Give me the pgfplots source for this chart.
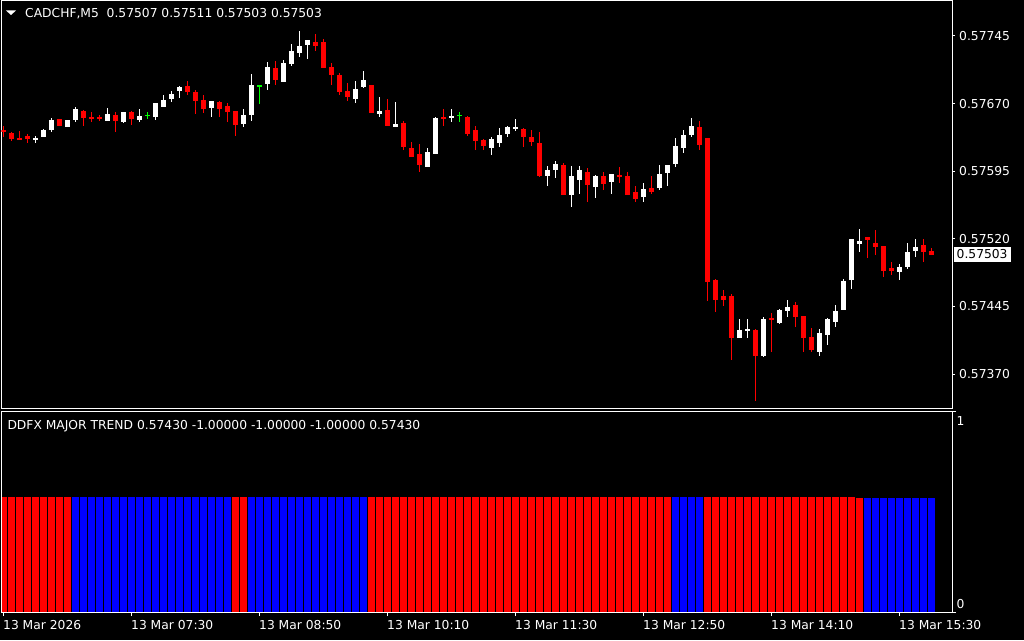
\documentclass[border=0pt]{standalone}
\usepackage{fontspec}
\setmainfont{DejaVu Sans}
\usepackage{pgfplots}
\usepackage{pgfplotstable}
\pgfplotsset{compat=1.18}
\definecolor{mtred}{RGB}{255,0,0}
\definecolor{mtblue}{RGB}{0,0,255}
\definecolor{mtgreen}{RGB}{0,255,0}
\newcommand{\mtfont}{\fontsize{12.3}{14}\selectfont}

% candles: i open high low close
\pgfplotstableread{
i o h l c
0 0.57642 0.57645 0.57633 0.57640
1 0.57637 0.57640 0.57630 0.57631
2 0.57633 0.57641 0.57631 0.57631
3 0.57634 0.57637 0.57627 0.57631
7 0.57653 0.57654 0.57646 0.57646
10 0.57663 0.57663 0.57646 0.57655
11 0.57655 0.57661 0.57650 0.57653
12 0.57656 0.57658 0.57651 0.57653
14 0.57658 0.57663 0.57641 0.57651
16 0.57662 0.57662 0.57647 0.57654
23 0.57690 0.57696 0.57680 0.57684
24 0.57684 0.57687 0.57660 0.57674
25 0.57676 0.57681 0.57661 0.57665
27 0.57672 0.57674 0.57657 0.57665
28 0.57668 0.57671 0.57650 0.57661
29 0.57662 0.57662 0.57635 0.57647
34 0.57711 0.57718 0.57692 0.57697
39 0.57739 0.57748 0.57729 0.57734
40 0.57739 0.57742 0.57711 0.57711
41 0.57711 0.57716 0.57691 0.57702
42 0.57702 0.57704 0.57680 0.57683
43 0.57685 0.57694 0.57674 0.57678
46 0.57691 0.57691 0.57660 0.57660
48 0.57663 0.57675 0.57645 0.57646
50 0.57650 0.57652 0.57620 0.57623
51 0.57621 0.57628 0.57611 0.57611
52 0.57614 0.57626 0.57595 0.57602
55 0.57655 0.57666 0.57647 0.57653
58 0.57656 0.57657 0.57635 0.57637
59 0.57642 0.57646 0.57620 0.57630
60 0.57630 0.57632 0.57620 0.57623
65 0.57642 0.57644 0.57623 0.57633
66 0.57632 0.57642 0.57625 0.57627
67 0.57627 0.57640 0.57590 0.57590
70 0.57603 0.57604 0.57570 0.57570
73 0.57595 0.57601 0.57563 0.57580
75 0.57591 0.57595 0.57575 0.57582
77 0.57591 0.57601 0.57583 0.57590
78 0.57591 0.57595 0.57570 0.57570
79 0.57572 0.57579 0.57561 0.57565
81 0.57577 0.57591 0.57571 0.57573
87 0.57645 0.57652 0.57620 0.57625
88 0.57632 0.57632 0.57451 0.57473
89 0.57475 0.57476 0.57439 0.57453
90 0.57457 0.57463 0.57445 0.57453
91 0.57457 0.57459 0.57386 0.57411
94 0.57419 0.57422 0.57342 0.57390
96 0.57432 0.57439 0.57395 0.57430
99 0.57448 0.57451 0.57423 0.57435
100 0.57435 0.57435 0.57395 0.57411
101 0.57412 0.57422 0.57395 0.57398
108 0.57521 0.57522 0.57500 0.57518
109 0.57516 0.57531 0.57504 0.57511
110 0.57513 0.57513 0.57478 0.57485
111 0.57489 0.57496 0.57481 0.57485
115 0.57514 0.57521 0.57495 0.57506
116 0.57507 0.57511 0.57503 0.57503
}\bearc

\pgfplotstableread{
i o h l c
4 0.57631 0.57634 0.57626 0.57633
5 0.57633 0.57642 0.57633 0.57641
6 0.57641 0.57655 0.57640 0.57652
8 0.57645 0.57653 0.57645 0.57652
9 0.57653 0.57667 0.57651 0.57665
13 0.57652 0.57667 0.57652 0.57660
15 0.57650 0.57662 0.57650 0.57661
17 0.57652 0.57665 0.57651 0.57656
19 0.57655 0.57671 0.57653 0.57671
20 0.57668 0.57680 0.57668 0.57676
21 0.57676 0.57685 0.57673 0.57681
22 0.57684 0.57691 0.57677 0.57688
26 0.57666 0.57674 0.57657 0.57673
30 0.57648 0.57664 0.57645 0.57658
31 0.57658 0.57703 0.57651 0.57691
33 0.57693 0.57718 0.57687 0.57712
35 0.57695 0.57719 0.57695 0.57716
36 0.57714 0.57737 0.57713 0.57729
37 0.57727 0.57752 0.57723 0.57734
38 0.57735 0.57742 0.57721 0.57741
44 0.57677 0.57696 0.57671 0.57688
45 0.57688 0.57706 0.57687 0.57696
47 0.57658 0.57677 0.57655 0.57662
49 0.57645 0.57672 0.57645 0.57648
53 0.57601 0.57621 0.57600 0.57618
54 0.57615 0.57656 0.57615 0.57654
56 0.57655 0.57665 0.57650 0.57657
61 0.57622 0.57634 0.57615 0.57632
62 0.57627 0.57644 0.57623 0.57636
63 0.57637 0.57646 0.57633 0.57644
64 0.57642 0.57654 0.57641 0.57645
68 0.57590 0.57601 0.57579 0.57596
69 0.57597 0.57608 0.57589 0.57604
71 0.57569 0.57601 0.57556 0.57590
72 0.57586 0.57602 0.57571 0.57597
74 0.57579 0.57591 0.57566 0.57591
76 0.57583 0.57592 0.57571 0.57592
80 0.57567 0.57582 0.57561 0.57576
82 0.57576 0.57602 0.57575 0.57592
83 0.57593 0.57602 0.57580 0.57602
84 0.57603 0.57633 0.57601 0.57623
85 0.57621 0.57642 0.57616 0.57635
86 0.57636 0.57655 0.57634 0.57646
92 0.57410 0.57431 0.57410 0.57419
93 0.57419 0.57432 0.57411 0.57421
95 0.57391 0.57434 0.57390 0.57432
97 0.57428 0.57444 0.57427 0.57442
98 0.57441 0.57454 0.57435 0.57445
102 0.57395 0.57420 0.57391 0.57417
103 0.57414 0.57433 0.57403 0.57431
104 0.57429 0.57447 0.57423 0.57441
105 0.57441 0.57476 0.57441 0.57473
106 0.57474 0.57520 0.57465 0.57520
107 0.57516 0.57531 0.57505 0.57519
112 0.57483 0.57492 0.57474 0.57489
113 0.57490 0.57516 0.57488 0.57506
114 0.57508 0.57521 0.57501 0.57512
}\bullc

\pgfplotstableread{
i o h l c
18 0.57658 0.57662 0.57654 0.57658
32 0.57691 0.57692 0.57670 0.57691
57 0.57658 0.57662 0.57651 0.57658
}\dojic

\pgfplotsset{
  wick/.style={draw=none, mark=none, forget plot,
    error bars/y dir=both, error bars/y explicit, error bars/error mark=none,
    error bars/error bar style={draw=#1, line width=1pt}},
  body/.style={draw=none, mark=none, forget plot,
    error bars/y dir=both, error bars/y explicit, error bars/error mark=none,
    error bars/error bar style={draw=#1, line width=5pt}},
  mtaxis/.style={scale only axis, clip mode=individual,
    xmin=-0.25, xmax=118.5625,
    axis line style={white, line width=1pt},
    tick style={white, line width=1pt}, tick align=outside},
}
\newcommand{\wicks}[2]{\addplot[wick=#2] table[x=i, y expr={(\thisrow{h}+\thisrow{l})/2}, y error expr={(\thisrow{h}-\thisrow{l})/2}] {#1};}
\newcommand{\bodies}[2]{\addplot[body=#2] table[x=i, y expr={(\thisrow{o}+\thisrow{c})/2}, y error expr={max(abs(\thisrow{o}-\thisrow{c})/2,0.0000045)}] {#1};}

\begin{document}
\begin{tikzpicture}
\fill[black] (0,0) rectangle (1024pt,640pt);

% price panel
\begin{axis}[mtaxis, at={(1.5pt,231pt)}, anchor=south west,
    width=950.5pt, height=408pt,
    ymin=0.5733117, ymax=0.5778383,
    xtick=\empty,
    ytick={0.5737,0.57445,0.5752,0.57595,0.5767,0.57745},
    yticklabels={0.57370,0.57445,0.57520,0.57595,0.57670,0.57745},
    ytick pos=right, yticklabel pos=right, major tick length=3pt,
    yticklabel style={white, font=\mtfont, anchor=west, inner sep=0pt, xshift=4pt}]
\wicks{\bearc}{mtred}
\bodies{\bearc}{mtred}
\wicks{\bullc}{white}
\bodies{\bullc}{white}
\wicks{\dojic}{mtgreen}
\bodies{\dojic}{mtgreen}
\node[fill=white, text=black, font=\mtfont, anchor=west, inner xsep=3pt, inner ysep=0pt, minimum height=15pt]
  at (axis cs:118.5625,0.57503) [xshift=1.5pt] {0.57503};
\end{axis}

\fill[white] (6pt,629.5pt) -- (16pt,629.5pt) -- (11pt,625pt) -- cycle;
\node[anchor=base west, text=white, font=\mtfont, inner sep=0pt] at (25pt,622.7pt)
  {CADCHF,M5\ \ 0.57507 0.57511 0.57503 0.57503};

% indicator panel
\begin{axis}[mtaxis, at={(1.5pt,28pt)}, anchor=south west,
    width=950.5pt, height=200pt, ymin=0, ymax=1, axis on top,
    xtick={0,16,32,48,64,80,96,112},
    xticklabels={13 Mar 2026,13 Mar 07:30,13 Mar 08:50,13 Mar 10:10,13 Mar 11:30,13 Mar 12:50,13 Mar 14:10,13 Mar 15:30},
    xtick pos=bottom, major tick length=4pt,
    xticklabel style={white, font=\mtfont, anchor=north west, inner sep=0pt, xshift=-0.5pt, yshift=-4pt},
    ytick={0,1}, yticklabel={}, ytick pos=right]
\addplot[ybar, bar width=1, bar shift=0pt, fill=mtred, draw=black, line width=1pt] coordinates {
(0,0.577) (1,0.577) (2,0.577) (3,0.577) (4,0.577) (5,0.577) (6,0.577) (7,0.577) (8,0.577)
(29,0.577) (30,0.577)
(46,0.577) (47,0.577) (48,0.577) (49,0.577) (50,0.577) (51,0.577) (52,0.577) (53,0.577)
(54,0.577) (55,0.577) (56,0.577) (57,0.577) (58,0.577) (59,0.577) (60,0.577) (61,0.577)
(62,0.577) (63,0.577) (64,0.577) (65,0.577) (66,0.577) (67,0.577) (68,0.577) (69,0.577)
(70,0.577) (71,0.577) (72,0.577) (73,0.577) (74,0.577) (75,0.577) (76,0.577) (77,0.577)
(78,0.577) (79,0.577) (80,0.577) (81,0.577) (82,0.577) (83,0.577)
(88,0.577) (89,0.577) (90,0.577) (91,0.577) (92,0.577) (93,0.577) (94,0.577) (95,0.577)
(96,0.577) (97,0.577) (98,0.577) (99,0.577) (100,0.577) (101,0.577) (102,0.577) (103,0.577)
(104,0.577) (105,0.577) (106,0.577) (107,0.572)
};
\addplot[ybar, bar width=1, bar shift=0pt, fill=mtblue, draw=black, line width=1pt] coordinates {
(9,0.577) (10,0.577) (11,0.577) (12,0.577) (13,0.577) (14,0.577) (15,0.577) (16,0.577)
(17,0.577) (18,0.577) (19,0.577) (20,0.577) (21,0.577) (22,0.577) (23,0.577) (24,0.577)
(25,0.577) (26,0.577) (27,0.577) (28,0.577)
(31,0.577) (32,0.577) (33,0.577) (34,0.577) (35,0.577) (36,0.577) (37,0.577) (38,0.577)
(39,0.577) (40,0.577) (41,0.577) (42,0.577) (43,0.577) (44,0.577) (45,0.577)
(84,0.577) (85,0.577) (86,0.577) (87,0.577)
(108,0.572) (109,0.572) (110,0.572) (111,0.572) (112,0.572) (113,0.572) (114,0.572)
(115,0.572) (116,0.572)
};
\node[anchor=north west, text=white, font=\mtfont, inner sep=0pt] at (axis cs:118.5625,1) [xshift=4.5pt, yshift=-4.5pt] {1};
\node[anchor=south west, text=white, font=\mtfont, inner sep=0pt] at (axis cs:118.5625,0) [xshift=4.5pt, yshift=3pt] {0};
\end{axis}

\node[anchor=base west, text=white, font=\mtfont, inner sep=0pt] at (7.3pt,211pt)
  {DDFX MAJOR TREND 0.57430 -1.00000 -1.00000 -1.00000 0.57430};

\pgfresetboundingbox
\useasboundingbox (0,0) rectangle (1024pt,640pt);
\end{tikzpicture}
\end{document}
